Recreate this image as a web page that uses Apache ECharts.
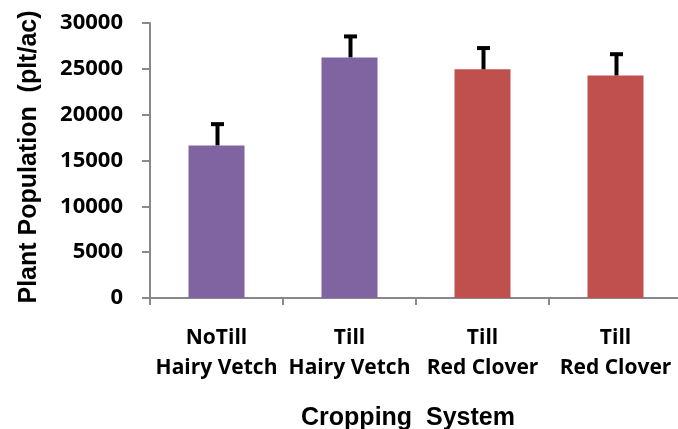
<!DOCTYPE html>
<html>
<head>
<meta charset="utf-8">
<script src="https://cdn.jsdelivr.net/npm/echarts@6/dist/echarts.min.js"></script>
<style>
html,body{margin:0;padding:0;background:#fff;}
#chart{width:678px;height:429px;}
</style>
</head>
<body>
<div id="chart"></div>
<script>
var categories = ['NoTill\nHairy Vetch', 'Till\nHairy Vetch', 'Till\nRed Clover', 'Till\nRed Clover'];
var values = [16650, 26250, 24950, 24280];
var errors = [2480, 2450, 2480, 2480];
var barColors = ['#8064A2', '#8064A2', '#C0504D', '#C0504D'];
var yTicks = [0, 5000, 10000, 15000, 20000, 25000, 30000];
var xTitle = 'Cropping  System';
var yTitle = 'Plant Population  (plt/ac)';

var ARIAL = '"Liberation Sans", Arial, sans-serif';
var HUMAN = '"Open Sans", "Noto Sans", sans-serif';
var chart = echarts.init(document.getElementById('chart'));

var barData = values.map(function (v, i) {
  return { value: v, itemStyle: { color: barColors[i] } };
});
var errData = values.map(function (v, i) { return [i, v, v + errors[i]]; });

chart.setOption({
  animation: false,
  backgroundColor: '#ffffff',
  grid: { left: 150, right: -4, top: 23, bottom: 131, containLabel: false, outerBoundsMode: 'none' },
  xAxis: {
    type: 'category',
    data: categories,
    name: xTitle,
    nameLocation: 'middle',
    nameGap: 108,
    nameTextStyle: { fontFamily: ARIAL, fontWeight: 'bold', fontSize: 25, color: '#000', padding: [0, 16, 0, 0] },
    axisLine: { lineStyle: { color: '#898989', width: 2 } },
    axisTick: { show: true, length: 7, lineStyle: { color: '#898989', width: 2 } },
    axisLabel: { fontFamily: HUMAN, fontWeight: 'bold', fontSize: 21, color: '#000', margin: 25, lineHeight: 30, interval: 0 }
  },
  yAxis: {
    type: 'value',
    min: 0,
    max: 30000,
    interval: 5000,
    name: yTitle,
    nameLocation: 'middle',
    nameRotate: 90,
    nameGap: 108,
    nameTextStyle: { fontFamily: ARIAL, fontWeight: 'bold', fontSize: 25, color: '#000', padding: [0, 0, 0, 7] },
    axisLine: { show: true, lineStyle: { color: '#898989', width: 2 } },
    axisTick: { show: true, length: 8, lineStyle: { color: '#898989', width: 2 } },
    splitLine: { show: false },
    axisLabel: {
      fontFamily: HUMAN, fontWeight: 'bold', fontSize: 22, color: '#000', margin: 27,
      formatter: function (v) { return yTicks.indexOf(v) >= 0 ? String(v) : ''; }
    }
  },
  series: [
    {
      type: 'bar',
      data: barData,
      barWidth: 56,
      z: 2
    },
    {
      type: 'custom',
      data: errData,
      z: 3,
      renderItem: function (params, api) {
        var base = api.coord([api.value(0), api.value(1)]);
        var top = api.coord([api.value(0), api.value(2)]);
        var x = base[0] + 1;
        var capHalf = 6.5;
        return {
          type: 'group',
          children: [
            { type: 'line', shape: { x1: x, y1: base[1], x2: x, y2: top[1] + 1 }, style: { stroke: '#000', lineWidth: 4 } },
            { type: 'line', shape: { x1: x - capHalf, y1: top[1] + 1.5, x2: x + capHalf, y2: top[1] + 1.5 }, style: { stroke: '#000', lineWidth: 4 } }
          ]
        };
      }
    }
  ]
});
</script>
</body>
</html>
